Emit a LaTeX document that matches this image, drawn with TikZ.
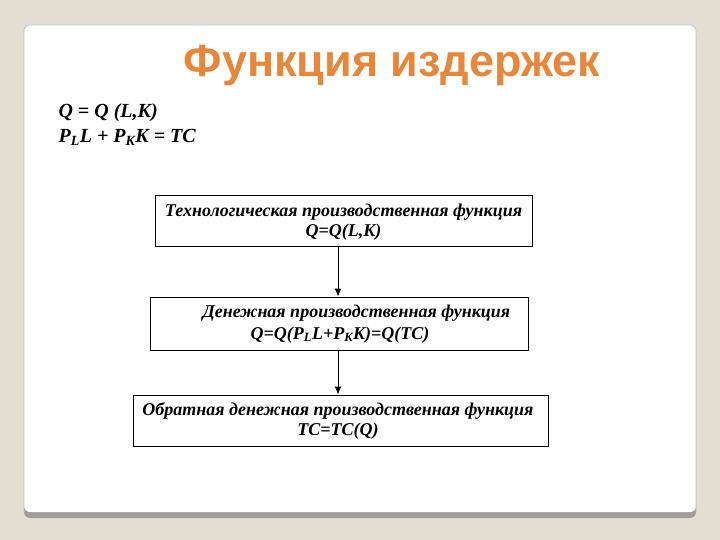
\documentclass[tikz,border=0pt]{standalone}
\usepackage{fontspec}
\setmainfont{Liberation Serif}
\newfontfamily\titlefont{Liberation Sans}
\usetikzlibrary{arrows.meta}
\definecolor{bgc}{HTML}{E2DED2}
\definecolor{titleorange}{HTML}{E8873A}
\definecolor{edgegray}{HTML}{A09E98}
\tikzset{
  fbox/.style={draw=black, line width=1pt, fill=white, inner sep=0pt},
  btext/.style={font=\fontsize{18}{19.5}\selectfont\bfseries\itshape, align=center},
  ftext/.style={font=\fontsize{20}{22}\selectfont\bfseries\itshape, anchor=west},
  conn/.style={draw=black, line width=1pt, -{Latex[length=8pt,width=7pt]}}
}
\begin{document}
\begin{tikzpicture}[x=1pt,y=-1pt]
\useasboundingbox (0,0) rectangle (720,540);
\fill[bgc] (0,0) rectangle (720,540);
% card shadow bottom
\fill[edgegray, rounded corners=6pt] (24,30) rectangle (696,518);
\fill[white, rounded corners=6pt] (24,25) rectangle (696,512);
\draw[gray!50, line width=0.6pt, rounded corners=6pt] (24,512) -- (24,25) -- (696,25) -- (696,512);
% title
\node[font=\titlefont\fontsize{45}{50}\selectfont\bfseries, text=titleorange] (title) at (392,66) {Функция издержек};
% formulas
\node[ftext] (f1) at (55,113) {Q = Q (L,K)};
\node[ftext] (f2) at (55,137) {P\textsubscript{L}L + P\textsubscript{K}K = TC};
% boxes
\node[fbox, minimum width=377pt, minimum height=50pt] (b1) at (343.5,221) {};
\node[btext] (t1) at (343.5,222) {Технологическая производственная функция\\Q=Q(L,K)};
\node[fbox, minimum width=378pt, minimum height=53pt] (b2) at (339,323.5) {};
\node[btext, anchor=west] (t2a) at (199,313) {Денежная производственная функция};
\node[btext] (t2b) at (340,335) {Q=Q(P\textsubscript{L}L+P\textsubscript{K}K)=Q(TC)};
\node[fbox, minimum width=415pt, minimum height=51pt] (b3) at (340.5,420.5) {};
\node[btext] (t3) at (338,421) {Обратная денежная производственная функция\\TC=TC(Q)};
% connectors
\draw[conn] (b1.south -| 338,0) -- (b2.north -| 338,0);
\draw[conn] (b2.south -| 338,0) -- (b3.north -| 338,0);
\end{tikzpicture}
\end{document}
